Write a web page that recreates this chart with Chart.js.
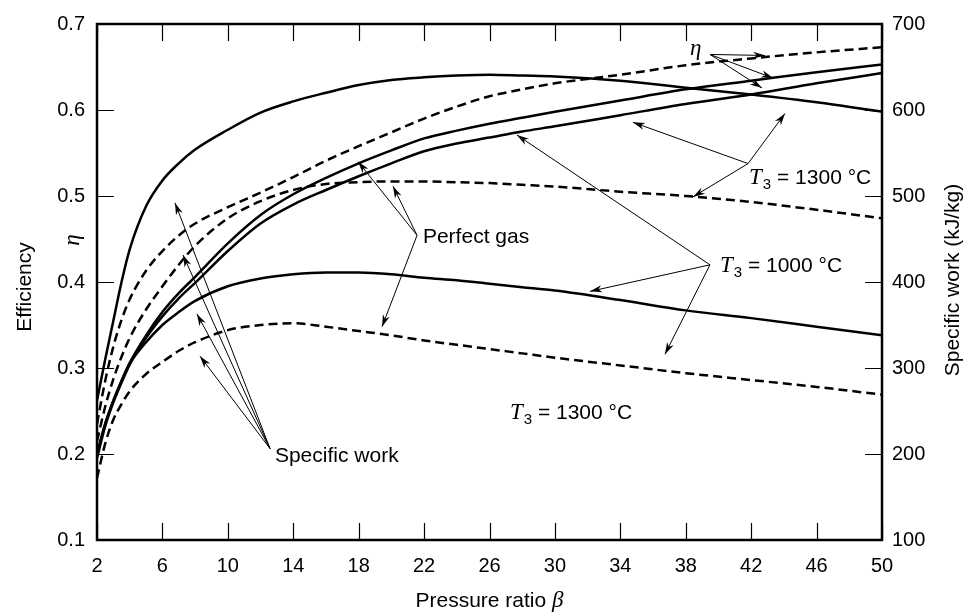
<!DOCTYPE html>
<html>
<head>
<meta charset="utf-8">
<script src="https://cdn.jsdelivr.net/npm/chart.js@4.4.0/dist/chart.umd.min.js"></script>
<style>html,body{margin:0;padding:0;background:#fff}</style>
</head>
<body>
<canvas id="chart" width="976" height="616"></canvas>
<script>
// pressure ratio values where curves were read
var beta = [2, 2.5, 3, 3.5, 4, 5, 6, 7, 8, 10, 12, 14, 16, 18, 20, 22, 24, 26, 28, 30, 34, 38, 42, 46, 50];

// efficiency curves (left axis)
var effDashed = [0.235, 0.285, 0.325, 0.356, 0.38, 0.413, 0.436, 0.454, 0.468, 0.487, 0.504, 0.522, 0.541, 0.558, 0.574, 0.59, 0.604, 0.616, 0.624, 0.631, 0.641, 0.652, 0.66, 0.667, 0.673];
var effSolidA = [0.2, 0.235, 0.262, 0.285, 0.306, 0.338, 0.365, 0.387, 0.406, 0.445, 0.478, 0.502, 0.521, 0.538, 0.553, 0.567, 0.576, 0.584, 0.591, 0.598, 0.611, 0.624, 0.634, 0.644, 0.653];
var effSolidB = [0.195, 0.232, 0.26, 0.283, 0.304, 0.335, 0.36, 0.381, 0.399, 0.436, 0.468, 0.49, 0.507, 0.523, 0.538, 0.552, 0.561, 0.568, 0.575, 0.581, 0.594, 0.607, 0.618, 0.631, 0.643];

// specific work curves (right axis, kJ/kg)
var work1300Solid = [262, 310, 355, 400, 438, 488, 518, 538, 554, 577, 597, 610, 620, 629, 635, 638, 640, 641, 640, 639, 634, 626, 618, 609, 598];
var work1300Dashed = [215, 255, 287, 313, 335, 368, 395, 420, 442, 474, 494, 507, 514, 516, 517, 517, 516, 515, 513, 511, 505, 500, 493, 484, 474];
var work1000Solid = [200, 235, 262, 285, 305, 330, 350, 365, 378, 395, 404, 409, 411, 411, 409, 405, 402, 398, 394, 390, 379, 367, 358, 348, 338];
var work1000Dashed = [172, 212, 240, 258, 273, 293, 307, 320, 330, 344, 350, 352, 348, 343, 338, 332, 327, 322, 317, 312, 303, 294, 286, 278, 269];

// tick labels
var xTicks = [2, 6, 10, 14, 18, 22, 26, 30, 34, 38, 42, 46, 50];
var effTicks = [0.1, 0.2, 0.3, 0.4, 0.5, 0.6, 0.7];
var workTicks = [100, 200, 300, 400, 500, 600, 700];

function pts(arr) {
    return beta.map(function (b, i) { return { x: b, y: arr[i] }; });
}

function line(arr, axis, dashed) {
    return {
        data: pts(arr),
        yAxisID: axis,
        borderColor: '#000',
        borderWidth: 2.5,
        borderDash: dashed ? [9, 5] : [],
        pointRadius: 0,
        fill: false,
        cubicInterpolationMode: 'monotone'
    };
}

// annotation arrows, in (beta, efficiency) units
var arrows = [
    { from: [39.48, 0.6646], to: [[42.85, 0.6634], [43.34, 0.6371], [42.66, 0.6257]] },
    { from: [41.81, 0.5377], to: [[34.77, 0.5857], [44.07, 0.596], [38.44, 0.4989]] },
    { from: [39.48, 0.42], to: [[27.68, 0.5709], [32.15, 0.3891], [36.73, 0.316]] },
    { from: [21.57, 0.4543], to: [[17.96, 0.54], [20.1, 0.5114], [19.43, 0.348]] },
    { from: [12.58, 0.2063], to: [[6.77, 0.492], [7.26, 0.4314], [8.11, 0.3629], [8.3, 0.3137]] }
];

var sans = '"Liberation Sans", Arial, sans-serif';
var serif = '"Liberation Serif", "Times New Roman", serif';

function drawT3(ctx, x, y, rest) {
    ctx.textAlign = 'left';
    ctx.textBaseline = 'alphabetic';
    ctx.font = 'italic 23px ' + serif;
    ctx.fillText('T', x, y);
    x += ctx.measureText('T').width + 1;
    ctx.font = '15px ' + sans;
    ctx.fillText('3', x, y + 5);
    x += ctx.measureText('3').width;
    ctx.font = '21px ' + sans;
    ctx.fillText(rest, x, y);
}

function arrowHead(ctx, x0, y0, x1, y1) {
    var a = Math.atan2(y1 - y0, x1 - x0);
    var len = 12, w = 3.6;
    ctx.beginPath();
    ctx.moveTo(x1, y1);
    ctx.lineTo(x1 - len * Math.cos(a) + w * Math.sin(a), y1 - len * Math.sin(a) - w * Math.cos(a));
    ctx.lineTo(x1 - len * 0.7 * Math.cos(a), y1 - len * 0.7 * Math.sin(a));
    ctx.lineTo(x1 - len * Math.cos(a) - w * Math.sin(a), y1 - len * Math.sin(a) + w * Math.cos(a));
    ctx.closePath();
    ctx.fill();
}

var decor = {
    id: 'decor',
    afterDatasetsDraw: function (chart) {
        var ctx = chart.ctx, a = chart.chartArea;
        var sx = chart.scales.x, sy = chart.scales.y, sy2 = chart.scales.y2;
        ctx.save();
        ctx.strokeStyle = '#000';
        ctx.fillStyle = '#000';

        // inward ticks
        ctx.lineWidth = 1.2;
        ctx.beginPath();
        xTicks.forEach(function (v) {
            var px = Math.round(sx.getPixelForValue(v)) + 0.5;
            ctx.moveTo(px, a.bottom); ctx.lineTo(px, a.bottom - 17);
            ctx.moveTo(px, a.top); ctx.lineTo(px, a.top + 17);
        });
        effTicks.forEach(function (v) {
            var py = Math.round(sy.getPixelForValue(v)) + 0.5;
            ctx.moveTo(a.left, py); ctx.lineTo(a.left + 17, py);
        });
        workTicks.forEach(function (v) {
            var py = Math.round(sy2.getPixelForValue(v)) + 0.5;
            ctx.moveTo(a.right, py); ctx.lineTo(a.right - 17, py);
        });
        ctx.stroke();

        // frame
        ctx.lineWidth = 2.5;
        ctx.strokeRect(a.left, a.top, a.right - a.left, a.bottom - a.top);

        // arrows
        ctx.lineWidth = 1;
        arrows.forEach(function (ar) {
            var x0 = sx.getPixelForValue(ar.from[0]), y0 = sy.getPixelForValue(ar.from[1]);
            ar.to.forEach(function (t) {
                var x1 = sx.getPixelForValue(t[0]), y1 = sy.getPixelForValue(t[1]);
                ctx.beginPath();
                ctx.moveTo(x0, y0); ctx.lineTo(x1, y1);
                ctx.stroke();
                arrowHead(ctx, x0, y0, x1, y1);
            });
        });

        // labels inside the plot
        function P(b, v) { return [sx.getPixelForValue(b), sy.getPixelForValue(v)]; }
        var p;
        ctx.textAlign = 'left';
        ctx.textBaseline = 'alphabetic';
        p = P(38.26, 0.6634);
        ctx.font = 'italic 23px ' + serif;
        ctx.fillText('\u03b7', p[0], p[1]);
        p = P(41.87, 0.5137); drawT3(ctx, p[0], p[1], ' = 1300 \u00b0C');
        p = P(40.09, 0.412); drawT3(ctx, p[0], p[1], ' = 1000 \u00b0C');
        p = P(27.25, 0.2406); drawT3(ctx, p[0], p[1], ' = 1300 \u00b0C');
        ctx.font = '21px ' + sans;
        p = P(21.93, 0.4451); ctx.fillText('Perfect gas', p[0], p[1]);
        p = P(12.88, 0.1903); ctx.fillText('Specific work', p[0], p[1]);

        // axis titles
        var t1 = 'Pressure ratio ';
        ctx.font = 'italic 23px ' + serif;
        var wb = ctx.measureText('\u03b2').width;
        ctx.font = '21px ' + sans;
        var w1 = ctx.measureText(t1).width;
        var cx = (a.left + a.right) / 2 - (w1 + wb) / 2;
        ctx.fillText(t1, cx, 607);
        ctx.font = 'italic 23px ' + serif;
        ctx.fillText('\u03b2', cx + w1, 607);

        ctx.textAlign = 'center';
        ctx.save();
        ctx.translate(31, 287);
        ctx.rotate(-Math.PI / 2);
        ctx.font = '21px ' + sans;
        ctx.fillText('Efficiency', 0, 0);
        ctx.restore();

        ctx.save();
        ctx.translate(79, 240);
        ctx.rotate(-Math.PI / 2);
        ctx.font = 'italic 23px ' + serif;
        ctx.fillText('\u03b7', 0, 0);
        ctx.restore();

        ctx.save();
        ctx.translate(959, 280);
        ctx.rotate(-Math.PI / 2);
        ctx.font = '21px ' + sans;
        ctx.fillText('Specific work (kJ/kg)', 0, 0);
        ctx.restore();

        ctx.restore();
    }
};

var ctx = document.getElementById('chart').getContext('2d');
var chart = new Chart(ctx, {
    type: 'line',
    data: {
        datasets: [
            line(work1300Solid, 'y2', false),
            line(effDashed, 'y', true),
            line(effSolidA, 'y', false),
            line(effSolidB, 'y', false),
            line(work1300Dashed, 'y2', true),
            line(work1000Solid, 'y2', false),
            line(work1000Dashed, 'y2', true)
        ]
    },
    options: {
        responsive: false,
        animation: false,
        layout: { padding: { top: 15 } },
        plugins: { legend: { display: false }, tooltip: { enabled: false } },
        scales: {
            x: {
                type: 'linear',
                min: 2, max: 50,
                grid: { display: false, drawTicks: false },
                border: { display: false },
                afterBuildTicks: function (s) { s.ticks = xTicks.map(function (v) { return { value: v }; }); },
                afterFit: function (s) { s.height = 76; },
                ticks: { color: '#000', padding: 14, font: { family: sans, size: 20 } }
            },
            y: {
                position: 'left',
                min: 0.1, max: 0.7,
                grid: { display: false, drawTicks: false },
                border: { display: false },
                afterBuildTicks: function (s) { s.ticks = effTicks.map(function (v) { return { value: v }; }); },
                afterFit: function (s) { s.width = 97; },
                ticks: {
                    color: '#000', padding: 12, font: { family: sans, size: 20 },
                    callback: function (v) { return v.toFixed(1); }
                }
            },
            y2: {
                position: 'right',
                min: 100, max: 700,
                grid: { display: false, drawTicks: false },
                border: { display: false },
                afterBuildTicks: function (s) { s.ticks = workTicks.map(function (v) { return { value: v }; }); },
                afterFit: function (s) { s.width = 94; },
                ticks: { color: '#000', padding: 10, font: { family: sans, size: 20 } }
            }
        }
    },
    plugins: [decor]
});
</script>
</body>
</html>
